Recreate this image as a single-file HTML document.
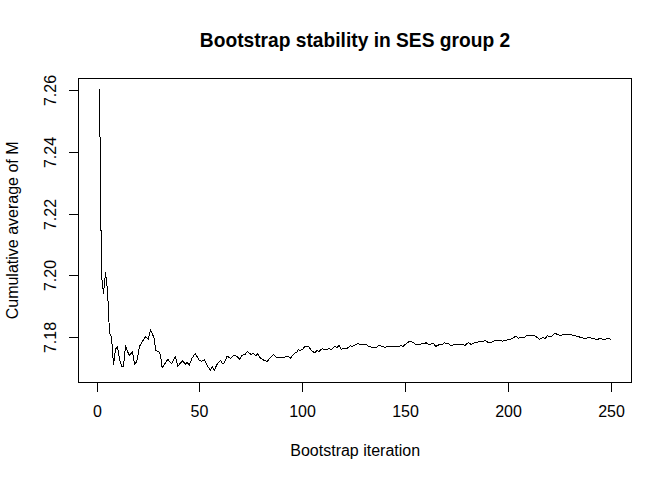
<!DOCTYPE html>
<html><head><meta charset="utf-8"><style>
html,body{margin:0;padding:0;background:#fff;}
svg{display:block;font-family:"Liberation Sans", sans-serif;}
</style></head><body>
<svg width="672" height="480" viewBox="0 0 672 480">
<rect width="672" height="480" fill="#fff"/>
<g shape-rendering="crispEdges">
<rect x="78.5" y="78.5" width="553" height="304" fill="none" stroke="#000" stroke-width="1"/>
<line x1="69" y1="337.5" x2="78.5" y2="337.5" stroke="#000"/>
<line x1="69" y1="275.5" x2="78.5" y2="275.5" stroke="#000"/>
<line x1="69" y1="214.5" x2="78.5" y2="214.5" stroke="#000"/>
<line x1="69" y1="152.5" x2="78.5" y2="152.5" stroke="#000"/>
<line x1="69" y1="90.5" x2="78.5" y2="90.5" stroke="#000"/>
<line x1="97.5" y1="382.5" x2="97.5" y2="392" stroke="#000"/>
<line x1="199.5" y1="382.5" x2="199.5" y2="392" stroke="#000"/>
<line x1="302.5" y1="382.5" x2="302.5" y2="392" stroke="#000"/>
<line x1="405.5" y1="382.5" x2="405.5" y2="392" stroke="#000"/>
<line x1="508.5" y1="382.5" x2="508.5" y2="392" stroke="#000"/>
<line x1="611.5" y1="382.5" x2="611.5" y2="392" stroke="#000"/>
<polyline points="99.5,89.5 101.5,276 103.5,293.5 105.5,272.5 107.5,290 109.5,333 111.5,337 113.5,364.5 115.5,349 117.5,346.5 119.5,359 121.5,366 123.5,366.5 125.5,345.5 127.5,351.5 129.5,355.5 132.5,351.5 134.5,364.5 136.75,361.75 139.6,346 140.9,344 145.25,336.75 148.4,339.25 150.5,329.5 154,338 155.9,350.5 158.5,351.5 160.5,354.5 162.1,368 167.75,359.25 171.5,363.6 175.5,356.5 177.75,366.1 182.75,360.75 185.25,364.25 187.1,362 189.25,365.25 192.1,358 195.25,353.6 199,359.9 201.5,361.1 204.5,359.75 207.1,365.5 210.5,370.25 212.5,366.75 214.25,370.25 217.75,363 220.5,360.5 222.6,364 224.4,362.5 227.1,356.1 230.5,358.25 234,355.25 236.5,356.1 239.6,359.25 242.1,355.5 245.25,354.25 247.5,351.5 250.9,354.5 253.4,353.6 255.9,355.5 257.5,353.6 260.25,357.75 264,360.25 267.1,361.5 270.25,357.75 273.4,354.5 276.5,357.4 284,357.4 286.5,356.1 288.4,356.5 290.5,358.25 292.25,355.5 294.75,353 296.6,352.5 298.2,349.5 299.75,350.5 302.25,349.5 303.5,348.5 304.5,346.5 308.4,346.5 311.5,350.5 314,352.4 315.25,352.4 317.25,350.5 318.8,351.75 322.25,348.5 324.4,349.5 327.25,349.5 328.8,348.5 331,349.75 334.4,346.5 336.9,347.5 339.4,345.25 340.4,348 341.3,349.75 342.25,348.5 346.6,348.5 348.2,347.5 350.4,345.5 351.9,346.5 354.1,345.5 355.7,344.5 357.75,343.6 359.6,344.25 366.5,344.25 368.25,346.5 370.75,346.5 371.5,347.5 376.5,347.4 379,345.25 381.5,346.1 384.6,347.4 387.1,346.5 399.5,346.5 400.7,345.5 402.9,346.5 406.3,343.5 408.5,342 409.75,341.5 411.3,341.5 413.2,342.5 415.4,344.5 420.4,344.5 421.3,343.5 424.75,343.5 426,342.5 428.5,344.5 430.4,344.5 431.9,343.5 433.5,343.5 435.7,346.5 439.4,344.5 442.6,344.5 444.4,342.5 445.4,343.5 448.5,343.5 450.4,345.5 452.6,345.5 453.5,344.5 463.5,344.5 464.75,345.5 468.5,342.5 471.3,344.5 473.2,343.5 474.4,342.5 477.75,342.25 479,341.5 483.4,341.25 485,340.25 487.75,342.25 491.5,342.25 495.9,340.25 500.25,340.25 502.1,341.25 504.6,340.25 506.5,340.25 510.9,339 515.9,336.25 518.4,338.5 520.25,337.5 524.6,337.25 526.5,335.4 533.4,335.4 535.9,336.5 539.6,339.4 542.75,337.75 545.25,338.5 547.5,335.6 549,336.5 551.5,336.25 554.6,333.4 557.75,334.4 560.9,335.6 563.4,334.4 570.25,334.4 574,335.5 578,336.5 581,337.5 585,338.5 589,337.5 593,338.5 597,339.5 600,338.5 603.5,339.5 608,338.5 611.5,339.5" fill="none" stroke="#000" stroke-width="1" stroke-linejoin="round" stroke-linecap="butt"/>
</g>
<g>
<text transform="translate(56,337.5) rotate(-90)" text-anchor="middle" font-size="16">7.18</text>
<text transform="translate(56,275.5) rotate(-90)" text-anchor="middle" font-size="16">7.20</text>
<text transform="translate(56,214.5) rotate(-90)" text-anchor="middle" font-size="16">7.22</text>
<text transform="translate(56,152.5) rotate(-90)" text-anchor="middle" font-size="16">7.24</text>
<text transform="translate(56,90.5) rotate(-90)" text-anchor="middle" font-size="16">7.26</text>
<text x="97.5" y="417" text-anchor="middle" font-size="16">0</text>
<text x="199.5" y="417" text-anchor="middle" font-size="16">50</text>
<text x="302.5" y="417" text-anchor="middle" font-size="16">100</text>
<text x="405.5" y="417" text-anchor="middle" font-size="16">150</text>
<text x="508.5" y="417" text-anchor="middle" font-size="16">200</text>
<text x="611.5" y="417" text-anchor="middle" font-size="16">250</text>
<text transform="translate(355,47) scale(1,1.07)" text-anchor="middle" font-size="19.2" font-weight="bold">Bootstrap stability in SES group 2</text>
<text transform="translate(355.2,456)" text-anchor="middle" font-size="16">Bootstrap iteration</text>
<text transform="translate(18,230.4) rotate(-90)" text-anchor="middle" font-size="16">Cumulative average of M</text>
</g>
</svg></body></html>
